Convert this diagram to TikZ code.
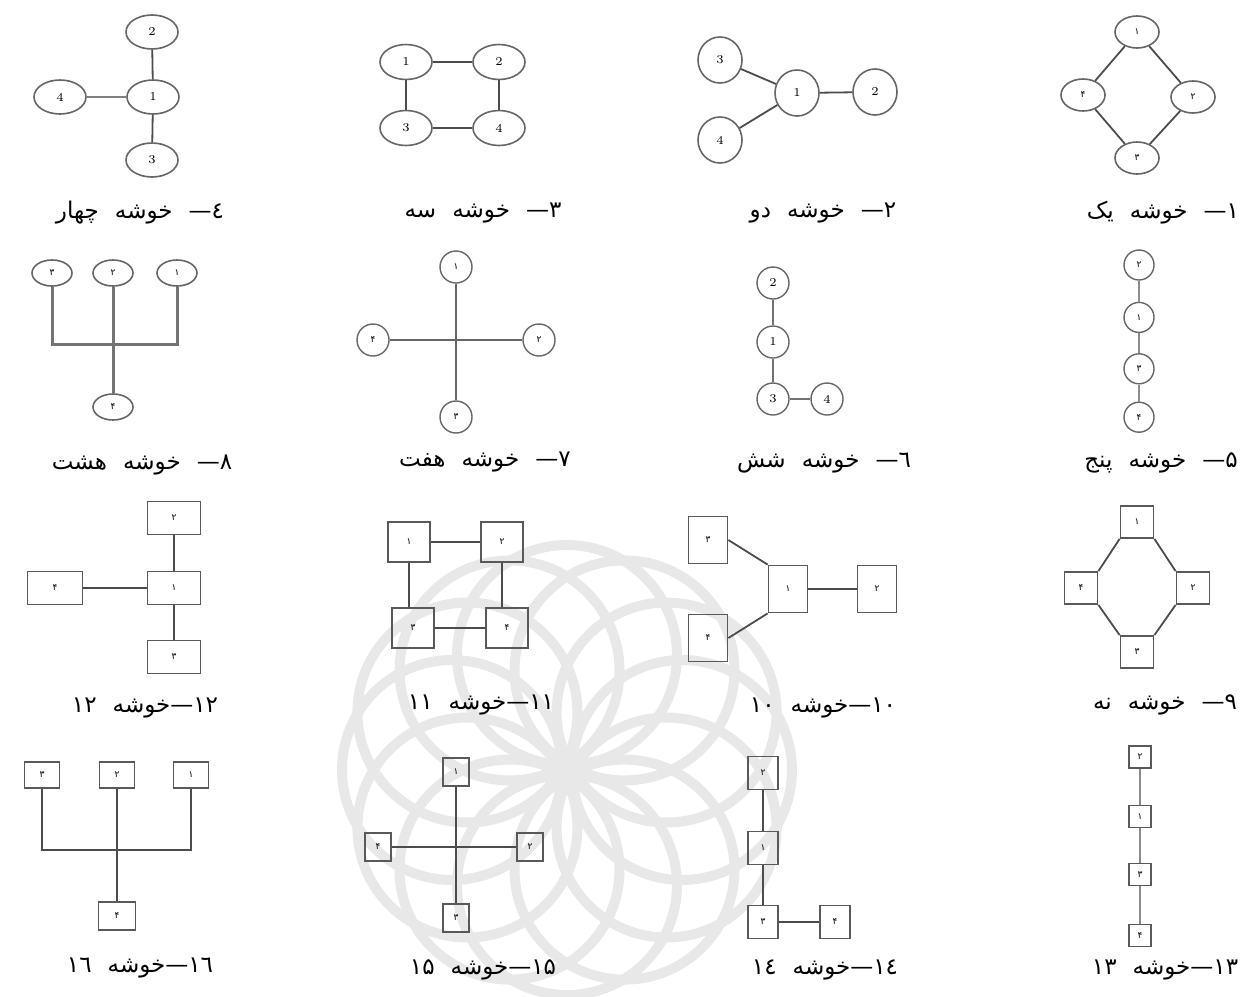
\documentclass[tikz,border=0pt]{standalone}
\usepackage{fontspec}
\usepackage{tikz}
\usetikzlibrary{shapes.geometric, positioning}
\newfontfamily\fafont[Script=Arabic,WordSpace=2.2]{DejaVu Sans}
\TeXXeTstate=1

\begin{document}
\begin{tikzpicture}[x=.5pt,y=-.5pt,
  every node/.style={inner sep=0pt},
  la/.style={font=\fontsize{6}{6}\selectfont},
  fa/.style={font=\fafont\fontsize{4.5}{5}\selectfont},
  ov/.style={draw=black!60,ellipse,line width=.8pt},
  rd/.style={draw=black!60,circle,line width=.7pt},
  bx/.style={draw=black!65,line width=.9pt,fa},
  lnk/.style={draw=black!70,line width=.9pt},
  caption/.style={font=\fafont\fontsize{11.5}{13}\selectfont}]
 \useasboundingbox (0,0) rectangle (1247,996);
 % watermark
 \foreach \a in {0,30,...,330}
   \draw[black!9,line width=5pt] (567,770) ++(\a:115) circle[radius=110];

 % cluster 1
 \begin{scope}[every node/.append style={ov,fa,minimum width=22pt,minimum height=16pt}]
 \node (a1) at (1137,32) {۱};
 \node (a2) at (1193,97) {۲};
 \node (a4) at (1083,95) {۴};
 \node (a3) at (1137,158) {۳};
 \end{scope}
 \draw[lnk] (a1)--(a2)--(a3)--(a4)--(a1);
 \node[caption] (t1) at (1163,213) {\beginR ۱— خوشه یک\endR};

 % cluster 2
 \begin{scope}[every node/.append style={ov,la,minimum width=22pt,minimum height=23pt}]
 \node (b3) at (720,60) {3};
 \node (b1) at (797,93) {1};
 \node (b2) at (875,92) {2};
 \node (b4) at (720,140) {4};
 \end{scope}
 \draw[lnk] (b1)--(b2);
 \draw[lnk] (b1)--(b3);
 \draw[lnk] (b1)--(b4);
 \node[caption] (t2) at (823,213) {\beginR ۲— خوشه دو\endR};

 % cluster 3
 \begin{scope}[every node/.append style={ov,la,minimum width=26pt,minimum height=17.5pt}]
 \node (c1) at (406,62) {1};
 \node (c2) at (499,62) {2};
 \node (c3) at (406,128) {3};
 \node (c4) at (499,128) {4};
 \end{scope}
 \draw[lnk] (c1)--(c2)--(c4)--(c3)--(c1);
 \node[caption] (t3) at (483,213) {\beginR ۳— خوشه سه\endR};

 % cluster 4
 \begin{scope}[every node/.append style={ov,la,minimum width=26pt,minimum height=17pt}]
 \node (d2) at (152,32) {2};
 \node (d1) at (153,97) {1};
 \node (d4) at (60,97) {4};
 \node (d3) at (152,160) {3};
 \end{scope}
 \draw[lnk] (d1)--(d2);
 \draw[lnk,black!50] (d1)--(d4);
 \draw[lnk] (d1)--(d3);
 \node[caption] (t4) at (140,213) {\beginR ٤— خوشه چهار\endR};

 % cluster 5
 \begin{scope}[every node/.append style={rd,fa,minimum size=15pt}]
 \node (e2) at (1139,265) {۲};
 \node[below=10.5pt of e2] (e1) {۱};
 \node[below=10pt of e1] (e3) {۳};
 \node[below=8.5pt of e3] (e4) {۴};
 \end{scope}
 \draw[lnk,black!45] (e2)--(e1)--(e3)--(e4);
 \node[caption] (t5) at (1161,463) {\beginR ۵— خوشه پنج\endR};

 % cluster 6
 \begin{scope}[every node/.append style={rd,la,minimum size=16pt}]
 \node (f2) at (773,283) {2};
 \node (f1) at (773,342) {1};
 \node (f3) at (773,399) {3};
 \node (f4) at (827,399) {4};
 \end{scope}
 \draw[lnk,black!55] (f2)--(f1)--(f3)--(f4);
 \node[caption] (t6) at (824,463) {\beginR ٦— خوشه شش\endR};

 % cluster 7
 \begin{scope}[every node/.append style={rd,fa,minimum size=16pt}]
 \node (g1) at (456,267) {۱};
 \node (g2) at (539,340) {۲};
 \node (g3) at (456,417) {۳};
 \node (g4) at (373,340) {۴};
 \end{scope}
 \draw[lnk,black!60] (g1)--(g3);
 \draw[lnk,black!60] (g4)--(g2);
 \node[caption] (t7) at (485,462) {\beginR ۷— خوشه هفت\endR};

 % cluster 8
 \begin{scope}[every node/.append style={ov,fa,minimum width=20pt,minimum height=13pt}]
 \node (h3) at (52,273) {۳};
 \node (h2) at (113,273) {۲};
 \node (h1) at (177,273) {۱};
 \node (h4) at (113,407) {۴};
 \end{scope}
 \coordinate (hb) at (113,344);
 \draw[black!55,line width=1.5pt] (h3.south) |- (hb) -| (h1.south);
 \draw[black!55,line width=1.5pt] (h2)--(h4);
 \node[caption] (t8) at (142,465) {\beginR ۸— خوشه هشت\endR};

 % cluster 9
 \begin{scope}[every node/.append style={bx,minimum width=16.5pt,minimum height=16pt}]
 \node (i1) at (1137,522) {۱};
 \node (i2) at (1193,588) {۲};
 \node (i4) at (1081,588) {۴};
 \node (i3) at (1137,652) {۳};
 \end{scope}
 \draw[lnk] (i1.south west)--(i4.north east);
 \draw[lnk] (i1.south east)--(i2.north west);
 \draw[lnk] (i2.south west)--(i3.north east);
 \draw[lnk] (i4.south east)--(i3.north west);
 \node[caption] (t9) at (1165,705) {\beginR ۹— خوشه نه\endR};

 % cluster 10
 \begin{scope}[every node/.append style={bx,minimum width=19.5pt,minimum height=23.5pt}]
 \node (j3) at (708,540) {۳};
 \node (j4) at (708,638) {۴};
 \node (j1) at (788,589) {۱};
 \node (j2) at (877,589) {۲};
 \end{scope}
 \draw[lnk] (j3.east)--(j1.north west);
 \draw[lnk] (j4.east)--(j1.south west);
 \draw[lnk] (j1)--(j2);
 \node[caption] (t10) at (823,708) {\beginR \beginL۱۰\endL—خوشه \beginL۱۰\endL\endR};

 % cluster 11
 \begin{scope}[every node/.append style={bx,minimum width=21pt,minimum height=20pt}]
 \node (k1) at (409,542) {۱};
 \node (k2) at (502,542) {۲};
 \node (k3) at (413,628) {۳};
 \node (k4) at (507,628) {۴};
 \end{scope}
 \draw[lnk] (k1)--(k2);
 \draw[lnk] (k3)--(k4);
 \draw[lnk] (k1.south)--(k1.south|-k3.north);
 \draw[lnk] (k2.south)--(k2.south|-k4.north);
 \node[caption] (t11) at (481,705) {\beginR \beginL۱۱\endL—خوشه \beginL۱۱\endL\endR};

 % cluster 12
 \begin{scope}[every node/.append style={bx,minimum width=26.5pt,minimum height=16.5pt}]
 \node (l2) at (174,518) {۲};
 \node (l1) at (174,588) {۱};
 \node[minimum width=27.5pt] (l4) at (55,588) {۴};
 \node (l3) at (174,657) {۳};
 \end{scope}
 \draw[lnk] (l1)--(l2);
 \draw[lnk] (l1)--(l3);
 \draw[lnk] (l1)--(l4);
 \node[caption] (t12) at (145,708) {\beginR \beginL۱۲\endL—خوشه \beginL۱۲\endL\endR};

 % cluster 13
 \begin{scope}[every node/.append style={bx,line width=.6pt,minimum size=11pt}]
 \node (m2) at (1140,757) {۲};
 \node[below=18pt of m2] (m1) {۱};
 \node[below=17.5pt of m1] (m3) {۳};
 \node[below=19pt of m3] (m4) {۴};
 \end{scope}
 \draw[lnk,black!45] (m2)--(m1)--(m3)--(m4);
 \node[caption] (t13) at (1165,970) {\beginR \beginL۱۳\endL—خوشه \beginL۱۳\endL\endR};

 % cluster 14
 \begin{scope}[every node/.append style={bx,minimum width=15pt,minimum height=16.5pt}]
 \node (n2) at (763,773) {۲};
 \node (n1) at (763,848) {۱};
 \node (n3) at (763,922) {۳};
 \node (n4) at (835,922) {۴};
 \end{scope}
 \draw[lnk] (n2)--(n1)--(n3)--(n4);
 \node[caption] (t14) at (825,970) {\beginR \beginL۱٤\endL—خوشه \beginL۱٤\endL\endR};

 % cluster 15
 \begin{scope}[every node/.append style={bx,line width=.6pt,minimum width=13pt,minimum height=14pt}]
 \node (o1) at (456,772) {۱};
 \node (o2) at (530,847) {۲};
 \node (o3) at (456,918) {۳};
 \node (o4) at (378,847) {۴};
 \end{scope}
 \draw[lnk,line width=.6pt] (o1)--(o3);
 \draw[lnk,line width=.6pt] (o4)--(o2);
 \node[caption] (t15) at (483,970) {\beginR \beginL۱۵\endL—خوشه \beginL۱۵\endL\endR};

 % cluster 16
 \begin{scope}[every node/.append style={bx,line width=.7pt,minimum width=17.5pt,minimum height=13pt}]
 \node (p3) at (42,775) {۳};
 \node (p2) at (117,775) {۲};
 \node (p1) at (191,775) {۱};
 \node[minimum width=18.5pt,minimum height=14pt] (p4) at (117,916) {۴};
 \end{scope}
 \coordinate (pb) at (117,850);
 \draw[lnk,line width=.7pt] (p3.south) |- (pb) -| (p1.south);
 \draw[lnk,line width=.9pt] (p2)--(p4);
 \node[caption] (t16) at (140,968) {\beginR \beginL۱٦\endL—خوشه \beginL۱٦\endL\endR};
\end{tikzpicture}
\end{document}
